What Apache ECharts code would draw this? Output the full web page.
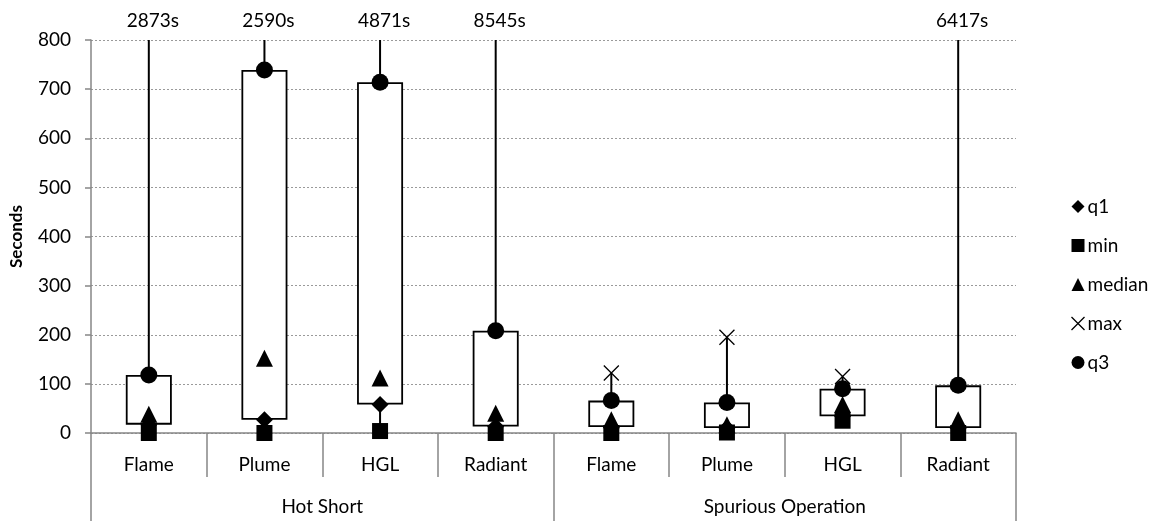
<!DOCTYPE html>
<html>
<head>
<meta charset="utf-8">
<script src="https://cdn.jsdelivr.net/npm/echarts@6/dist/echarts.min.js"></script>
<style>
html,body{margin:0;padding:0;background:#fff;}
#chart{width:1165px;height:521px;}
</style>
</head>
<body>
<div id="chart"></div>
<script>
// ---- data ----
var categories = ['Flame','Plume','HGL','Radiant','Flame','Plume','HGL','Radiant'];
var groups = ['Hot Short','Spurious Operation'];
var minVals    = [0, 0, 4, 0, 0, 1, 25, 0];
var q1Vals     = [17, 27, 58, 13, 12, 10, 34, 10];
var medianVals = [38, 152, 112, 40, 27, 17, 58, 27];
var q3Vals     = [118, 739, 714, 208, 66, 62, 90, 97];
var maxVals    = [2873, 2590, 4871, 8545, 122, 195, 115, 6417];
var yTicks = [0, 100, 200, 300, 400, 500, 600, 700, 800];

var FONT = 'Lato, "Open Sans", sans-serif';
var YMAX = yTicks[yTicks.length - 1];
var X_PATH = 'path://M0,0L10,10M10,0L0,10';

var chart = echarts.init(document.getElementById('chart'), null, {renderer: 'canvas'});

var boxBase = q1Vals.slice();
var boxHeight = q3Vals.map(function (v, i) { return v - q1Vals[i]; });
var whiskerData = categories.map(function (c, i) { return [i, minVals[i], maxVals[i]]; });

var solid = {color: '#000', opacity: 1};

var option = {
  backgroundColor: '#fff',
  animation: false,
  textStyle: {fontFamily: FONT},
  grid: {left: 91, right: 149, top: 40, bottom: 88, containLabel: false},
  legend: {
    orient: 'vertical',
    left: 1069,
    top: 197,
    padding: 0,
    itemWidth: 13,
    itemHeight: 13,
    itemGap: 20,
    textStyle: {fontFamily: FONT, fontSize: 19, color: '#000', padding: [0, 0, 0, -2]},
    data: [
      {name: 'q1', icon: 'diamond', itemStyle: solid},
      {name: 'min', icon: 'rect', itemStyle: solid},
      {name: 'median', icon: 'triangle', itemStyle: solid},
      {name: 'max', icon: X_PATH, itemStyle: {color: 'none', borderColor: '#000', borderWidth: 1.3, opacity: 1}},
      {name: 'q3', icon: 'circle', itemStyle: solid}
    ]
  },
  xAxis: [
    {
      type: 'category',
      data: categories,
      position: 'bottom',
      boundaryGap: true,
      axisLine: {show: true, lineStyle: {color: '#868686', width: 1.5}},
      axisTick: {show: true, length: 44, interval: 0, lineStyle: {color: '#868686', width: 1.5}},
      axisLabel: {interval: 0, margin: 22, fontSize: 19, color: '#000', fontFamily: FONT},
      splitLine: {show: false}
    },
    {
      type: 'category',
      data: groups,
      position: 'bottom',
      boundaryGap: true,
      axisLine: {show: false},
      axisTick: {show: true, length: 90, interval: 0, lineStyle: {color: '#868686', width: 1.5}},
      axisLabel: {interval: 0, margin: 64, fontSize: 19, color: '#000', fontFamily: FONT},
      splitLine: {show: false}
    }
  ],
  yAxis: {
    type: 'value',
    min: 0,
    max: YMAX,
    interval: 100,
    name: 'Seconds',
    nameLocation: 'middle',
    nameGap: 66,
    nameRotate: 90,
    nameTextStyle: {fontFamily: FONT, fontSize: 17, fontWeight: 'bold', color: '#000'},
    axisLine: {show: true, lineStyle: {color: '#868686', width: 1.5}},
    axisTick: {show: true, length: 6, lineStyle: {color: '#868686', width: 1.5}},
    axisLabel: {margin: 20, fontSize: 19, color: '#000', fontFamily: FONT},
    splitLine: {show: true, lineStyle: {color: '#9a9a9a', type: [2, 2], width: 1}}
  },
  series: [
    {
      name: 'whisker',
      type: 'custom',
      z: 1,
      data: whiskerData,
      renderItem: function (params, api) {
        var x = api.value(0);
        var lo = api.value(1);
        var hi = api.value(2);
        var top = api.coord([x, Math.min(hi, YMAX)]);
        var bot = api.coord([x, lo]);
        var children = [{
          type: 'line',
          shape: {x1: top[0], y1: top[1], x2: bot[0], y2: bot[1]},
          style: {stroke: '#000', lineWidth: 2}
        }];
        if (hi > YMAX) {
          children.push({
            type: 'text',
            x: top[0] + 4,
            y: top[1] - 19,
            style: {text: hi + 's', fill: '#000', font: '19px ' + FONT, align: 'center', verticalAlign: 'middle'}
          });
        }
        return {type: 'group', children: children};
      }
    },
    {
      name: 'boxBase',
      type: 'bar',
      stack: 'box',
      barWidth: 46,
      z: 2,
      silent: true,
      itemStyle: {color: 'transparent'},
      data: boxBase
    },
    {
      name: 'box',
      type: 'bar',
      stack: 'box',
      barWidth: 46,
      z: 2,
      itemStyle: {color: '#fff', borderColor: '#000', borderWidth: 1.8},
      data: boxHeight
    },
    {
      name: 'q1', type: 'scatter', symbol: 'diamond', symbolSize: 17, z: 3,
      itemStyle: solid, data: q1Vals
    },
    {
      name: 'min', type: 'scatter', symbol: 'rect', symbolSize: 16, z: 3,
      itemStyle: solid, data: minVals, clip: false
    },
    {
      name: 'median', type: 'scatter', symbol: 'triangle', symbolSize: 17, z: 3,
      itemStyle: solid, data: medianVals
    },
    {
      name: 'max', type: 'scatter', symbol: X_PATH, symbolSize: 15, z: 3, clip: true,
      itemStyle: {color: 'none', borderColor: '#000', borderWidth: 1.3, opacity: 1}, data: maxVals
    },
    {
      name: 'q3', type: 'scatter', symbol: 'circle', symbolSize: 17, z: 3,
      itemStyle: solid, data: q3Vals
    }
  ]
};
chart.setOption(option);
</script>
</body>
</html>
